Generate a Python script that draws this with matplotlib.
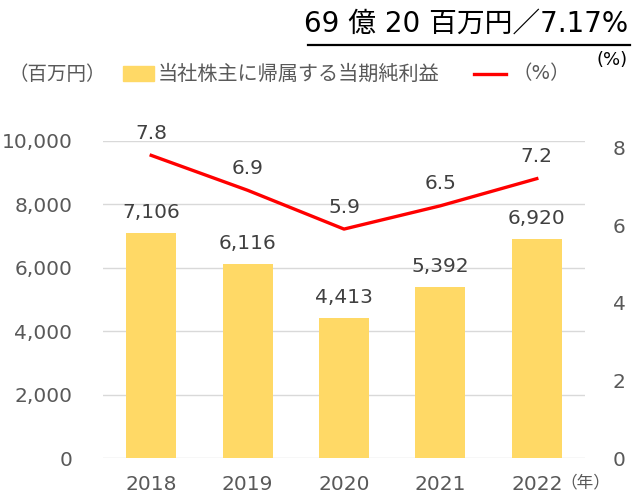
import matplotlib.pyplot as plt
import numpy as np

years = ['2018', '2019', '2020', '2021', '2022']
profit = [7106, 6116, 4413, 5392, 6920]      # 百万円
ratio = [7.8, 6.9, 5.9, 6.5, 7.2]            # %
left_ticks = [0, 2000, 4000, 6000, 8000, 10000]
right_ticks = [0, 2, 4, 6, 8]

FAM = ['DejaVu Sans', 'Noto Sans CJK JP']
plt.rcParams['font.family'] = FAM

bar_color = '#FFD966'
line_color = '#FF0000'
tick_color = '#595959'
label_color = '#404040'

fig = plt.figure(figsize=(6.35, 4.97), dpi=100)
ax = fig.add_axes([103 / 635, 1 - 458 / 497, 482 / 635, 317 / 497])
x = np.arange(len(years))

ax.bar(x, profit, width=0.52, color=bar_color, zorder=2)
ax.set_ylim(0, 10000)
ax.set_xlim(-0.5, len(years) - 0.5)
ax.set_yticks(left_ticks)
ax.set_yticklabels([f'{v:,}' for v in left_ticks])
ax.set_xticks(x)
ax.set_xticklabels(years)
ax.grid(axis='y', color='#D9D9D9', linewidth=1, zorder=0)
ax.tick_params(axis='y', length=0, pad=22, labelsize=14.5, labelcolor=tick_color)
ax.tick_params(axis='x', length=0, pad=12, labelsize=14.5, labelcolor=tick_color)
for s in ax.spines.values():
    s.set_visible(False)

for xi, v in zip(x, profit):
    ax.annotate(f'{v:,}', (xi, v), xytext=(0, 8), textcoords='offset points',
                ha='center', va='bottom', fontsize=14.5, color=label_color)

ax2 = ax.twinx()
ax2.plot(x, ratio, color=line_color, linewidth=2.4, zorder=3)
ax2.set_ylim(0, 8.17)
ax2.set_yticks(right_ticks)
ax2.tick_params(axis='y', length=0, pad=20, labelsize=14.5, labelcolor=tick_color)
for s in ax2.spines.values():
    s.set_visible(False)

for xi, v in zip(x, ratio):
    ax2.annotate(f'{v}', (xi, v), xytext=(0, 9), textcoords='offset points',
                 ha='center', va='bottom', fontsize=14.5, color=label_color)

# title and legend row
fig.text(628 / 635, 1 - 24 / 497, '69 億 20 百万円／7.17%', ha='right', va='center',
         fontsize=20, color='black', family=FAM)
fig.add_artist(plt.Line2D([308 / 635, 630 / 635], [1 - 45 / 497, 1 - 45 / 497],
                          color='black', linewidth=1.6))
fig.text(628 / 635, 1 - 60 / 497, '(%)', ha='right', va='center',
         fontsize=13, color='black')

ly = 1 - 74 / 497
fig.text(8 / 635, ly, '（百万円）', ha='left', va='center', fontsize=14,
         color=tick_color, family=FAM)
fig.add_artist(plt.Rectangle((123 / 635, 1 - 81 / 497), 31 / 635, 15 / 497,
                             color=bar_color))
fig.text(158 / 635, ly, '当社株主に帰属する当期純利益', ha='left', va='center',
         fontsize=14.5, color=tick_color, family=FAM)
fig.add_artist(plt.Line2D([474 / 635, 506 / 635], [ly, ly], color=line_color,
                          linewidth=2.4))
fig.text(512 / 635, ly, '（%）', ha='left', va='center', fontsize=14,
         color=tick_color, family=FAM)

fig.text(560 / 635, 1 - 482 / 497, '（年）', ha='left', va='center', fontsize=12,
         color=tick_color, family=FAM)

fig.savefig('out.png', dpi=100)
